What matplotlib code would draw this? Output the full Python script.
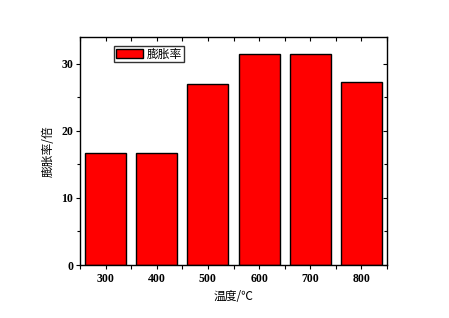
import matplotlib
matplotlib.use("Agg")
import matplotlib.pyplot as plt
from matplotlib.ticker import MultipleLocator

temps = [300, 400, 500, 600, 700, 800]
expansion = [16.7, 16.7, 27.0, 31.4, 31.4, 27.3]
series_name = "膨胀率"
xlabel = "温度/℃"
ylabel = "膨胀率/倍"

cjk = ['Noto Sans CJK SC', 'DejaVu Sans']

fig = plt.figure(figsize=(4.49, 3.18), dpi=100)
ax = fig.add_axes([80/449, 1-265/318, 307/449, 228/318])

ax.bar(temps, expansion, width=80, color='#ff0000', edgecolor='black', linewidth=1.0, label=series_name)

ax.set_xlim(250, 850)
ax.set_ylim(0, 34)
ax.set_xticks(temps)
ax.xaxis.set_minor_locator(MultipleLocator(50))
ax.yaxis.set_major_locator(MultipleLocator(10))
ax.yaxis.set_minor_locator(MultipleLocator(5))

for lab in ax.get_xticklabels() + ax.get_yticklabels():
    lab.set_fontfamily('Liberation Serif')
    lab.set_fontweight('bold')
    lab.set_fontsize(8.5)

ax.tick_params(axis='x', which='both', direction='out', top=True, length=3, width=0.8, pad=3)
ax.tick_params(axis='y', which='both', direction='out', right=True, length=3, width=0.8, pad=2)
ax.tick_params(axis='y', which='minor', length=2)
for t in ax.xaxis.get_major_ticks() + ax.xaxis.get_minor_ticks():
    t.tick2line.set_marker(3)  # inward on top
for t in ax.yaxis.get_major_ticks() + ax.yaxis.get_minor_ticks():
    t.tick2line.set_marker(0)  # inward on right

for s in ax.spines.values():
    s.set_linewidth(1.0)

ax.set_xlabel(xlabel, family=cjk, fontsize=8.5, labelpad=3)
ax.set_ylabel(ylabel, family=cjk, fontsize=8.5, labelpad=5)

leg = ax.legend(loc='upper left', bbox_to_anchor=(34/307, 1-8.5/228), frameon=True, fancybox=False,
                edgecolor='black', prop={'family': cjk, 'size': 8.5}, handlelength=2.3, handleheight=0.8,
                borderpad=0.15, handletextpad=0.35, borderaxespad=0)
leg.get_frame().set_linewidth(1.0)

fig.savefig('out.png', dpi=100)
